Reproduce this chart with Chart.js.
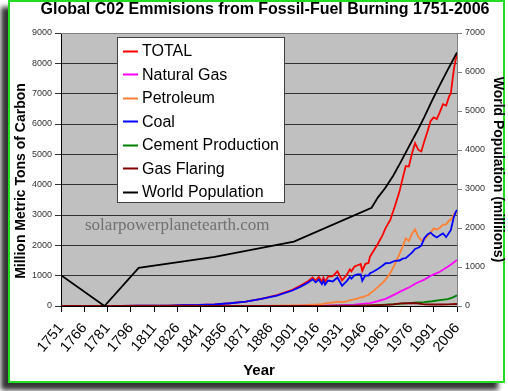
<!DOCTYPE html>
<html><head><meta charset="utf-8">
<script src="https://cdn.jsdelivr.net/npm/chart.js@4.4.0/dist/chart.umd.min.js"></script>
<style>
html,body{margin:0;padding:0;background:#fff;width:508px;height:391px;overflow:hidden;}
#frame{position:absolute;left:8px;top:0;width:493px;height:379px;border:2px solid #22dd22;background:#fff;box-shadow:-7px 7px 5px rgba(0,0,0,0.8);}
#wrap{position:absolute;left:0;top:0;width:508px;height:391px;}
</style></head><body>
<div id="frame"></div>
<div id="wrap"><canvas id="c" width="508" height="391"></canvas></div>
<script>
// ---- data ----
const tickYears = [1751,1766,1781,1796,1811,1826,1841,1856,1871,1886,1901,1916,1931,1946,1961,1976,1991,2006];

const emYears = [1751,1760,1770,1780,1790,1800,1810,1820,1830,1840,
  1850,1860,1870,1880,1890,1900,1905,1910,1913,1915,
  1917,1919,1920,1921,1923,1926,1929,1932,1935,1937,
  1938,1940,1942,1944,1945,1947,1949,1950,1952,1955,
  1958,1960,1963,1966,1969,1971,1973,1975,1977,1979,
  1981,1983,1985,1987,1989,1991,1993,1995,1997,1999,
  2001,2002,2003,2004,2005,2006];

const totalValues = [3,3,4,5,7,8,10,14,24,33,
  54,91,147,236,356,534,663,819,943,838,
  955,806,932,803,970,983,1145,847,1027,1209,
  1142,1299,1342,1383,1160,1392,1419,1630,1795,2043,
  2330,2569,2833,3288,3780,4208,4614,4596,5026,5369,
  5152,5094,5439,5752,6097,6217,6162,6398,6651,6610,
  6927,6996,7416,7807,8093,8280];

const coalValues = [3,3,4,5,7,8,10,14,24,33,
  54,91,146,232,345,510,630,770,880,780,
  870,720,830,700,840,810,940,670,820,960,
  900,1010,1040,1040,830,1010,1000,1080,1130,1220,
  1330,1410,1420,1490,1500,1560,1580,1670,1760,1880,
  1920,1990,2240,2360,2420,2320,2260,2330,2390,2270,
  2420,2500,2720,2940,3080,3170];

const petroleumValues = [0,0,0,0,0,0,0,0,0,0,
  0,0,1,3,9,16,23,34,45,48,
  55,60,78,80,100,115,145,130,155,190,
  195,230,240,290,280,330,360,423,490,620,
  760,870,1080,1380,1720,1960,2230,2140,2380,2530,
  2290,2160,2190,2300,2420,2560,2520,2580,2680,2690,
  2830,2840,2920,3020,3070,3090];

const minorYears = [1751,1850,1880,1900,1910,1920,1930,1940,1950,1955,1960,1965,1970,1975,1980,1985,1990,1995,2000,2003,2006];
const gasValues = [0,0,1,3,8,11,26,44,97,160,235,360,490,610,760,870,1020,1130,1290,1400,1520];
const cementValues = [0,0,0,0,0,4,10,8,18,30,43,57,78,95,120,131,157,191,226,275,350];
const flaringValues = [0,0,0,0,0,0,0,0,23,31,39,55,87,95,90,55,50,50,55,60,66];

const popYears = [1751,1779,1801,1850,1901,1951,1955,1960,1965,1970,1975,1980,1985,1990,1995,2000,2006];
const popValues = [791,0,978,1262,1650,2520,2780,3039,3346,3708,4087,4454,4851,5274,5672,6055,6500];

const seriesNames = ['TOTAL','Natural Gas','Petroleum','Coal','Cement Production','Gas Flaring','World Population'];
const seriesColors = ['#ff0000','#ff00ff','#ff8033','#0000ff','#008000','#800000','#000000'];

// ---- build ----
const pts = (xs, ys) => xs.map((x, i) => ({x: x, y: ys[i]}));
const seriesData = [
  pts(emYears, totalValues),
  pts(minorYears, gasValues),
  pts(emYears, petroleumValues),
  pts(emYears, coalValues),
  pts(minorYears, cementValues),
  pts(minorYears, flaringValues),
  pts(popYears, popValues)
];

const FONT = '"Liberation Sans", Arial, sans-serif';
Chart.defaults.font.family = FONT;

const datasets = seriesData.map((d, i) => ({
  label: seriesNames[i],
  data: d,
  borderColor: seriesColors[i],
  backgroundColor: seriesColors[i],
  borderWidth: 1.8,
  pointRadius: 0,
  tension: 0,
  fill: false,
  yAxisID: i === 6 ? 'y2' : 'y',
  order: 6 - i
}));

const decor = {
  id: 'decor',
  beforeDraw(chart) {
    const {ctx, chartArea: a} = chart;
    ctx.save();
    ctx.fillStyle = '#c0c0c0';
    ctx.fillRect(a.left, a.top, a.right - a.left, a.bottom - a.top);
    ctx.restore();
  },
  beforeDatasetsDraw(chart) {
    const {ctx, chartArea: a} = chart;
    ctx.save();
    ctx.strokeStyle = '#808080';
    ctx.lineWidth = 1;
    ctx.beginPath();
    ctx.moveTo(a.left, a.top + 0.5);
    ctx.lineTo(a.right, a.top + 0.5);
    ctx.stroke();
    ctx.fillStyle = '#707070';
    ctx.font = '17px "Liberation Serif", "DejaVu Serif", serif';
    ctx.textBaseline = 'middle';
    ctx.textAlign = 'left';
    ctx.fillText('solarpowerplanetearth.com', 85, 226);
    const bx = 117, by = 37, bw = 167, bh = 165;
    ctx.fillStyle = '#ffffff';
    ctx.fillRect(bx, by, bw, bh);
    ctx.strokeStyle = '#404040';
    ctx.strokeRect(bx + 0.5, by + 0.5, bw, bh);
    ctx.font = '16px ' + FONT;
    chart.data.datasets.forEach((ds, i) => {
      const y = 50.7 + i * 23.5;
      ctx.strokeStyle = ds.borderColor;
      ctx.lineWidth = 2;
      ctx.beginPath();
      ctx.moveTo(123, Math.round(y) + 0.5);
      ctx.lineTo(138, Math.round(y) + 0.5);
      ctx.stroke();
      ctx.fillStyle = '#000';
      ctx.fillText(ds.label, 142, y + 1);
    });
    ctx.restore();
  },
  afterDraw(chart) {
    const {ctx} = chart;
    ctx.save();
    ctx.fillStyle = '#000';
    ctx.font = 'bold 16px ' + FONT;
    ctx.textAlign = 'center';
    ctx.textBaseline = 'middle';
    ctx.fillText('Global C02 Emmisions from Fossil-Fuel Burning 1751-2006', 265, 10);
    // left axis title
    ctx.translate(21, 181);
    ctx.rotate(-Math.PI / 2);
    ctx.font = 'bold 14px ' + FONT;
    ctx.fillText('Million Metric Tons of Carbon', 0, 0);
    ctx.restore();
  }
};

new Chart(document.getElementById('c'), {
  type: 'line',
  data: {datasets},
  plugins: [decor],
  options: {
    responsive: false,
    animation: false,
    devicePixelRatio: 1,
    layout: {padding: {top: 33, left: 0, right: 0, bottom: 0}},
    plugins: {legend: {display: false}, tooltip: {enabled: false}, title: {display: false}},
    scales: {
      x: {
        type: 'linear', min: 1751, max: 2006,
        afterBuildTicks: s => { s.ticks = tickYears.map(v => ({value: v})); },
        afterFit: s => { s.height = 85; },
        ticks: {autoSkip: false, maxRotation: 50, minRotation: 50, color: '#000',
          font: {size: 14.5}, padding: 8, callback: v => String(v)},
        grid: {drawOnChartArea: false, drawTicks: true, tickLength: 6, color: '#000'},
        border: {color: '#000', width: 1},
        title: {display: true, text: 'Year', color: '#000', font: {size: 15, weight: 'bold'}, padding: {top: 0, bottom: 11}}
      },
      y: {
        position: 'left', min: 0, max: 9000,
        afterFit: s => { s.width = 61; },
        ticks: {stepSize: 1000, color: '#333', font: {size: 9}, padding: 3, callback: v => String(v)},
        grid: {color: c => (c.tick && c.tick.value === 9000) ? '#808080' : '#333', tickLength: 6, tickColor: '#333'},
        border: {color: '#000', width: 1},
        title: {display: false}
      },
      y2: {
        position: 'right', min: 0, max: 7000,
        afterFit: s => { s.width = 51; },
        ticks: {stepSize: 1000, color: '#333', font: {size: 9}, padding: 3, callback: v => String(v)},
        grid: {drawOnChartArea: false, drawTicks: true, tickLength: 5, color: '#808080'},
        border: {color: '#808080', width: 1},
        title: {display: true, text: 'World Population (milliions)', color: '#000', font: {size: 14, weight: 'bold'}, padding: {top: 1.6, bottom: 0}}
      }
    }
  }
});
</script>
</body></html>
